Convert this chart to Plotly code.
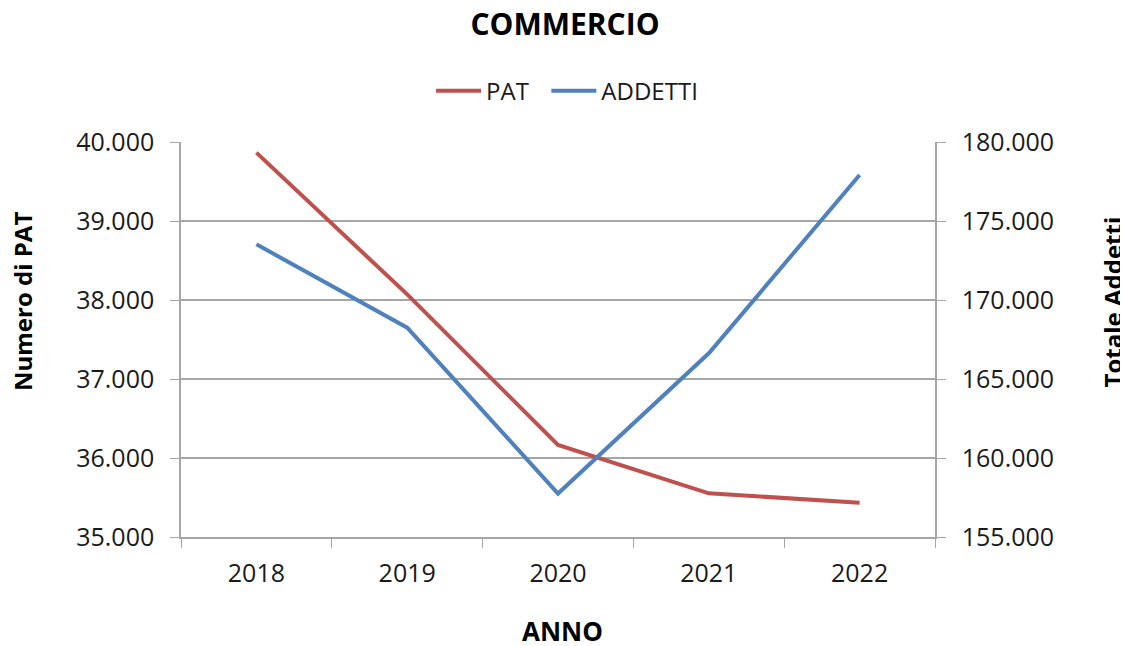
import plotly.graph_objects as go

anni = ['2018', '2019', '2020', '2021', '2022']
pat = [39865, 38071, 36165, 35553, 35434]
addetti = [173525, 168247, 157750, 166627, 177911]

FONT = 'Open Sans'
grid_col = '#A6A6A6'
title_font = dict(family=FONT, size=24, color='black')

fig = go.Figure()

# nbsp after PAT only widens the gap between the two legend entries
fig.add_trace(go.Scatter(
    x=anni, y=pat, name='PAT\u00a0\u00a0', mode='lines',
    line=dict(color='#C0504D', width=4)
))

fig.add_trace(go.Scatter(
    x=anni, y=addetti, name='ADDETTI', mode='lines',
    line=dict(color='#4F81BD', width=4),
    yaxis='y2'
))

# axis titles as annotations (positions like the original Excel chart)
fig.add_annotation(text='<b>Numero di PAT</b>', xref='paper', yref='paper',
                   x=-0.2095, y=0.595, textangle=-90, showarrow=False,
                   xanchor='center', yanchor='middle', font=title_font)
fig.add_annotation(text='<b>Totale Addetti</b>', xref='paper', yref='paper',
                   x=1.2354, y=0.595, textangle=-90, showarrow=False,
                   xanchor='center', yanchor='middle', font=title_font)
fig.add_annotation(text='<b>ANNO</b>', xref='paper', yref='paper',
                   x=0.5066, y=-0.2380, showarrow=False,
                   xanchor='center', yanchor='middle',
                   font=dict(family=FONT, size=26, color='black'))

fig.update_layout(
    width=1128, height=646,
    paper_bgcolor='white', plot_bgcolor='white',
    separators=',.',
    font=dict(family=FONT, size=25, color='#1a1a1a'),
    margin=dict(l=173, r=201, t=134, b=117),
    title=dict(text='<b>COMMERCIO</b>', x=557 / 1128, xref='container', xanchor='center',
               y=1 - 16.5 / 646, yref='container', yanchor='middle',
               font=dict(size=30, color='black')),
    legend=dict(orientation='h', x=0.512, xanchor='center', y=1.129, yanchor='middle',
                font=dict(size=24), traceorder='normal', itemwidth=45),
    xaxis=dict(
        type='category', range=[-0.5, 4.5],
        showgrid=False, showline=True, linecolor=grid_col, linewidth=1.5,
        ticks='outside', tickson='boundaries', ticklen=9, tickcolor=grid_col,
        ticklabelstandoff=13, automargin=False, zeroline=False,
    ),
    yaxis=dict(
        range=[35000, 40000], dtick=1000, tickformat=',.0f',
        showgrid=True, gridcolor=grid_col, gridwidth=1.5,
        showline=True, linecolor=grid_col, linewidth=1.5,
        ticks='outside', ticklen=9, tickcolor=grid_col,
        ticklabelstandoff=11, automargin=False, zeroline=False,
    ),
    yaxis2=dict(
        range=[155000, 180000], dtick=5000, tickformat=',.0f',
        overlaying='y', side='right', showgrid=False,
        showline=True, linecolor=grid_col, linewidth=1.5,
        ticks='outside', ticklen=9, tickcolor=grid_col,
        ticklabelstandoff=11, automargin=False, zeroline=False,
    ),
)

fig.write_html('out.html')
